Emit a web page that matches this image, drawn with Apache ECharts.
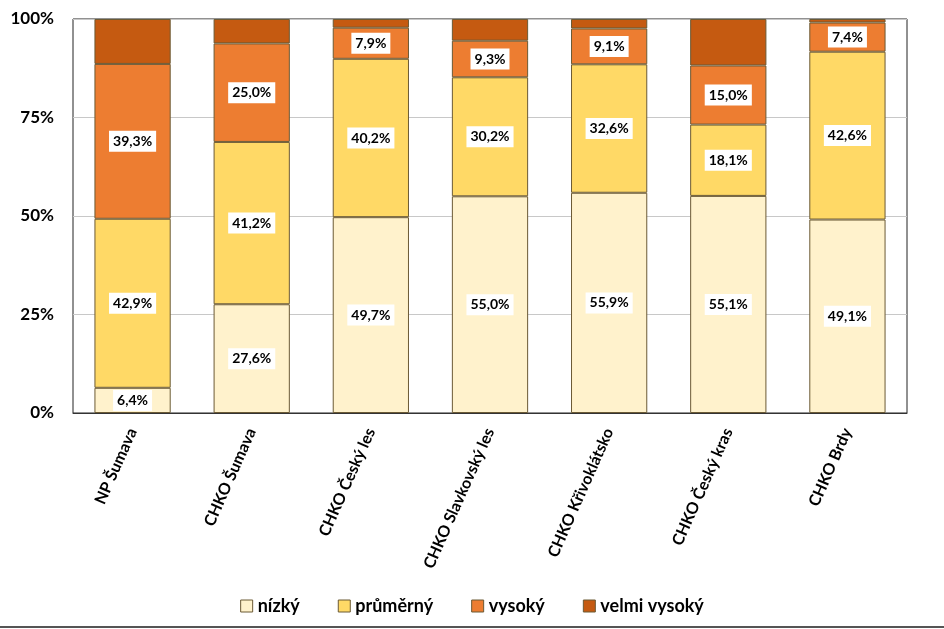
<!DOCTYPE html>
<html>
<head>
<meta charset="utf-8">
<script src="https://cdn.jsdelivr.net/npm/echarts@6/dist/echarts.min.js"></script>
<style>html,body{margin:0;padding:0;background:#fff}#c{width:944px;height:629px}</style>
</head>
<body>
<div id="c"></div>
<script>
const categories = ['NP Šumava','CHKO Šumava','CHKO Český les','CHKO Slavkovský les','CHKO Křivoklátsko','CHKO Český kras','CHKO Brdy'];
const seriesNames = ['nízký','průměrný','vysoký','velmi vysoký'];
const nizky = [6.4,27.6,49.7,55.0,55.9,55.1,49.1];
const prumerny = [42.9,41.2,40.2,30.2,32.6,18.1,42.6];
const vysoky = [39.3,25.0,7.9,9.3,9.1,15.0,7.4];
const velmiVysoky = [11.4,6.2,2.2,5.5,2.4,11.8,0.9];
const yTicks = ['0%','25%','50%','75%','100%'];
const colors = ['#FFF2CC','#FFD966','#ED7D31','#C55A11'];

const FONT = 'Lato';
const chart = echarts.init(document.getElementById('c'));
const dataSets = [nizky, prumerny, vysoky, velmiVysoky];
const series = dataSets.map((d, i) => ({
  name: seriesNames[i],
  type: 'bar',
  stack: 'total',
  barWidth: '64%',
  data: d,
  itemStyle: {color: colors[i], borderColor: '#6b5a35', borderWidth: 1},
  label: {
    show: i < 3,
    position: 'inside',
    formatter: p => p.value.toFixed(1).replace('.', ',') + '%',
    backgroundColor: '#fff',
    color: '#000',
    fontFamily: FONT,
    fontWeight: 'bold',
    fontSize: 14,
    padding: [4, 4, 3, 4]
  },
  emphasis: {disabled: true}
}));

chart.setOption({
  animation: false,
  color: colors,
  grid: {left: 73, right: 37, top: 19, bottom: 216, show: true, borderColor: '#222', borderWidth: 1, containLabel: false},
  legend: {
    bottom: 9,
    left: 'center',
    itemWidth: 12,
    itemHeight: 12,
    itemGap: 38,
    icon: 'rect',
    textStyle: {fontFamily: FONT, fontWeight: 'bold', fontSize: 18, color: '#000'},
    data: seriesNames.map((n, i) => ({name: n, itemStyle: {color: colors[i], borderColor: '#6b5a35', borderWidth: 1}}))
  },
  xAxis: {
    type: 'category',
    data: categories,
    axisLine: {lineStyle: {color: '#333', width: 1}},
    axisTick: {show: false},
    axisLabel: {rotate: 66, interval: 0, margin: 16, fontFamily: FONT, fontWeight: 'bold', fontSize: 16, color: '#000'}
  },
  yAxis: {
    type: 'value',
    min: 0, max: 100, interval: 25,
    axisLine: {show: false},
    axisTick: {show: false},
    splitLine: {lineStyle: {color: '#c8c8c8'}},
    axisLabel: {
      margin: 19,
      fontFamily: FONT, fontWeight: 'bold', fontSize: 17, color: '#000',
      formatter: v => yTicks[Math.round(v / 25)]
    }
  },
  graphic: [{type: 'line', shape: {x1: 0, y1: 627, x2: 944, y2: 627}, style: {stroke: '#555', lineWidth: 2}}],
  series: series
});
</script>
</body>
</html>
